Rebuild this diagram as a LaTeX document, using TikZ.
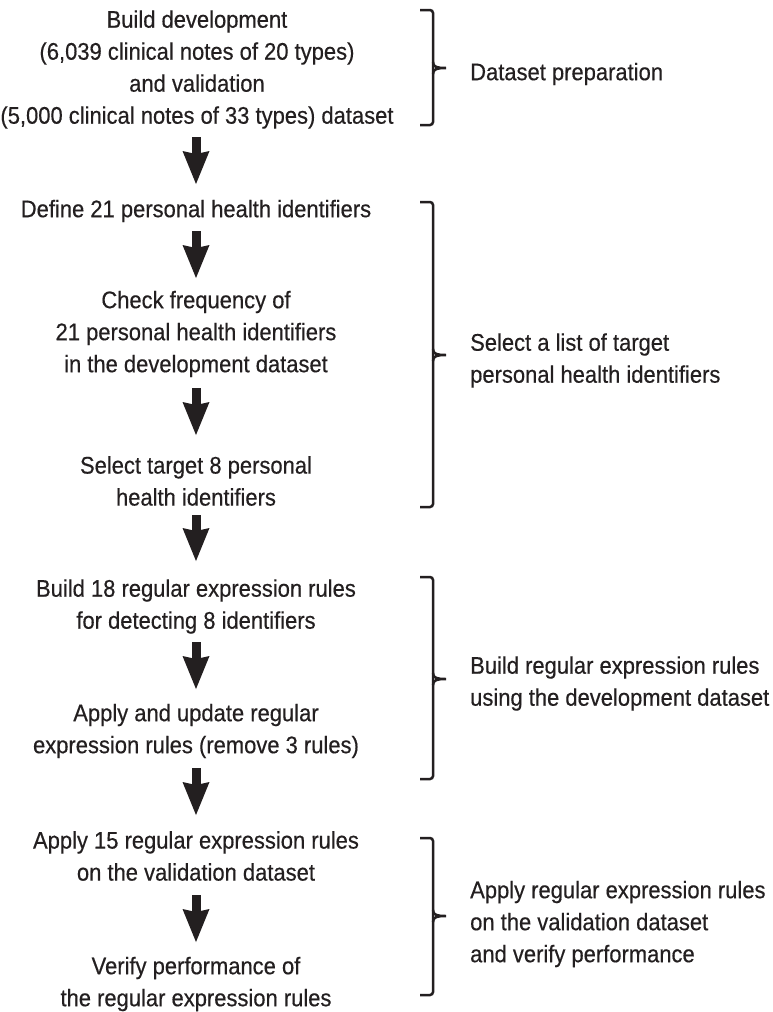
\documentclass[tikz,border=0pt]{standalone}
\usepackage{fontspec}
\setmainfont{Liberation Sans}[FakeStretch=0.915,FakeBold=0.4]
\usetikzlibrary{arrows.meta}
\definecolor{ink}{HTML}{231F20}
\newcommand{\mybrk}[3]{%
  \draw[brk] (420,#1) -- (433,#1) -- (433,#3) -- (420,#3);
  \draw[brk, rounded corners=0pt] (433,{#2-6}) .. controls (433,{#2-1}) and (437,#2) .. (446,#2)
     .. controls (437,#2) and (433,{#2+1}) .. (433,{#2+6});}
\begin{document}
\begin{tikzpicture}[x=1pt,y=-1pt,
  txt/.style={font=\fontsize{24}{32}\selectfont, text=ink, align=center, inner sep=0pt, anchor=center},
  lbl/.style={font=\fontsize{24}{32}\selectfont, text=ink, align=left, inner sep=0pt, anchor=west},
  flow/.style={draw=ink, line width=9pt, -{Stealth[length=33pt,width=27pt,inset=3pt,line width=0pt]}},
  brk/.style={draw=ink, line width=2.5pt, rounded corners=3pt}]
\useasboundingbox (0,0) rectangle (772,1012);
\fill[white] (0,0) rectangle (772,1012);

\node[txt] (prep) at (197,69.5) {Build development\\(6,039 clinical notes of 20 types)\\and validation\\(5,000 clinical notes of 33 types) dataset};
\node[txt] (define) at (196,211) {Define 21 personal health identifiers};
\node[txt] (check) at (196,334) {Check frequency of\\21 personal health identifiers\\in the development dataset};
\node[txt] (select) at (196,481) {Select target 8 personal\\health identifiers};
\node[txt] (build) at (196,606.5) {Build 18 regular expression rules\\for detecting 8 identifiers};
\node[txt] (update) at (196,731) {Apply and update regular\\expression rules (remove 3 rules)};
\node[txt] (apply) at (196,856) {Apply 15 regular expression rules\\on the validation dataset};
\node[txt] (verify) at (196,984) {Verify performance of\\the regular expression rules};

% arrow end points
\coordinate (s1) at (196,137);  \coordinate (e1) at (196,184);
\coordinate (s2) at (196,231);  \coordinate (e2) at (196,278);
\coordinate (s3) at (196,388);  \coordinate (e3) at (196,435);
\coordinate (s4) at (196,515);  \coordinate (e4) at (196,561);
\coordinate (s5) at (196,642);  \coordinate (e5) at (196,689);
\coordinate (s6) at (196,768);  \coordinate (e6) at (196,815);
\coordinate (s7) at (196,895);  \coordinate (e7) at (196,942);
\draw[flow] (s1) -- (e1);
\draw[flow] (s2) -- (e2);
\draw[flow] (s3) -- (e3);
\draw[flow] (s4) -- (e4);
\draw[flow] (s5) -- (e5);
\draw[flow] (s6) -- (e6);
\draw[flow] (s7) -- (e7);

\node[lbl] (l1) at (470,74) {Dataset preparation};
\node[lbl] (l2) at (470,360.5) {Select a list of target\\personal health identifiers};
\node[lbl] (l3) at (470,683.5) {Build regular expression rules\\using the development dataset};
\node[lbl] (l4) at (470,924) {Apply regular expression rules\\on the validation dataset\\and verify performance};

\mybrk{10}{68}{125}
\mybrk{202}{355}{507}
\mybrk{577}{679}{779}
\mybrk{838}{916}{995}
\end{tikzpicture}
\end{document}
